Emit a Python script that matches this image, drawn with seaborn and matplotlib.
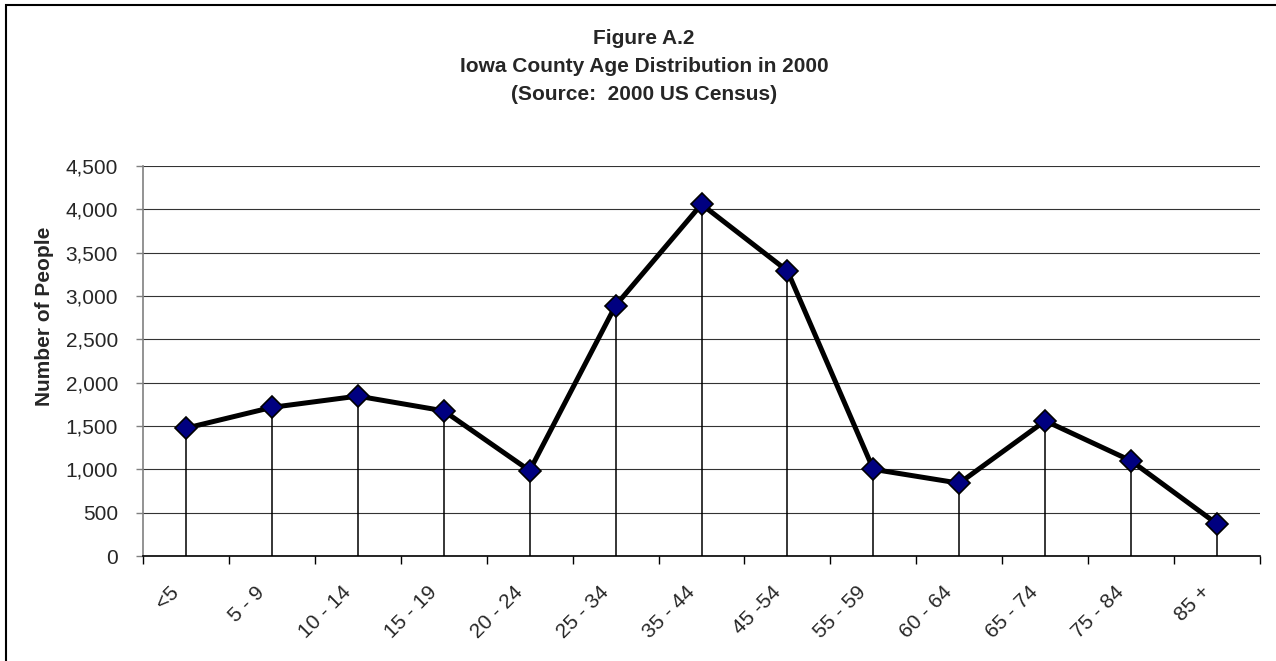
import numpy as np
import seaborn as sns
import matplotlib.pyplot as plt
from matplotlib.patches import Rectangle
from matplotlib.ticker import FuncFormatter, FixedLocator
from matplotlib.transforms import ScaledTranslation

# Values
age_groups = ['<5', '5 - 9', '10 - 14', '15 - 19', '20 - 24', '25 - 34', '35 - 44',
              '45 -54', '55 - 59', '60 - 64', '65 - 74', '75 - 84', '85 +']
people = [1475, 1715, 1845, 1675, 985, 2890, 4058, 3290, 1000, 840, 1560, 1098, 370]
y_ticks = [0, 500, 1000, 1500, 2000, 2500, 3000, 3500, 4000, 4500]

sns.set_style('white')
plt.rcParams['font.family'] = ['Liberation Sans', 'DejaVu Sans']

fig = plt.figure(figsize=(12.76, 6.61), dpi=100)
ax = fig.add_axes([143 / 1276, 1 - 556 / 661, (1260 - 143) / 1276, (556 - 166) / 661])

pos = np.arange(len(age_groups))

# drop lines from each point down to the axis
ax.vlines(pos, 0, people, color='black', linewidth=1.1, zorder=2)

sns.lineplot(x=pos, y=people, ax=ax, color='black', linewidth=3.6, sort=False,
             marker='D', markersize=11, markerfacecolor='#000080',
             markeredgecolor='black', markeredgewidth=1.2, zorder=3)

ax.set_xlim(-0.5, len(age_groups) - 0.5)
ax.set_ylim(0, 4500)
ax.set_yticks(y_ticks)
ax.yaxis.set_major_formatter(FuncFormatter(lambda v, p: f'{int(v):,}'))
ax.grid(axis='y', color='#333333', linewidth=0.8, zorder=0)
ax.set_axisbelow(True)

# category labels at centres, tick marks at the boundaries
ax.set_xticks(pos)
ax.set_xticklabels(age_groups, rotation=45, ha='right', va='center',
                   rotation_mode='anchor', fontsize=15)
ax.tick_params(axis='x', which='major', length=0, pad=24)
shift = ScaledTranslation(-0.10, 0, fig.dpi_scale_trans)
for lbl in ax.get_xticklabels():
    lbl.set_transform(lbl.get_transform() + shift)
ax.xaxis.set_minor_locator(FixedLocator(np.arange(-0.5, len(age_groups), 1.0)))
ax.tick_params(axis='x', which='minor', length=6, width=1, color='black', bottom=True)
ax.tick_params(axis='y', length=5, width=1, color='#808080', labelsize=15, pad=13, left=True)

for s in ['top', 'right']:
    ax.spines[s].set_visible(False)
ax.spines['left'].set_color('#808080')
ax.spines['left'].set_linewidth(1.2)
ax.spines['bottom'].set_color('black')
ax.spines['bottom'].set_linewidth(1.2)

ax.set_xlabel('')
ax.set_ylabel('')
fig.text(45 / 1276, 1 - 316 / 661, 'Number of People', rotation=90, ha='center',
         va='center', fontsize=15, fontweight='bold')

for i, line in enumerate(['Figure A.2', 'Iowa County Age Distribution in 2000',
                          '(Source:  2000 US Census)']):
    fig.text(644 / 1276, 1 - (38 + 28.5 * i) / 661, line, ha='center', va='center',
             fontsize=15, fontweight='bold')

# outer chart border (left and top edges visible in the crop)
fig.patches.append(Rectangle((6 / 1276, -0.2), 1.5, 1.2 - 5 / 661, fill=False,
                             edgecolor='black', linewidth=1.5,
                             transform=fig.transFigure, figure=fig))

fig.savefig('out.png', dpi=100)
